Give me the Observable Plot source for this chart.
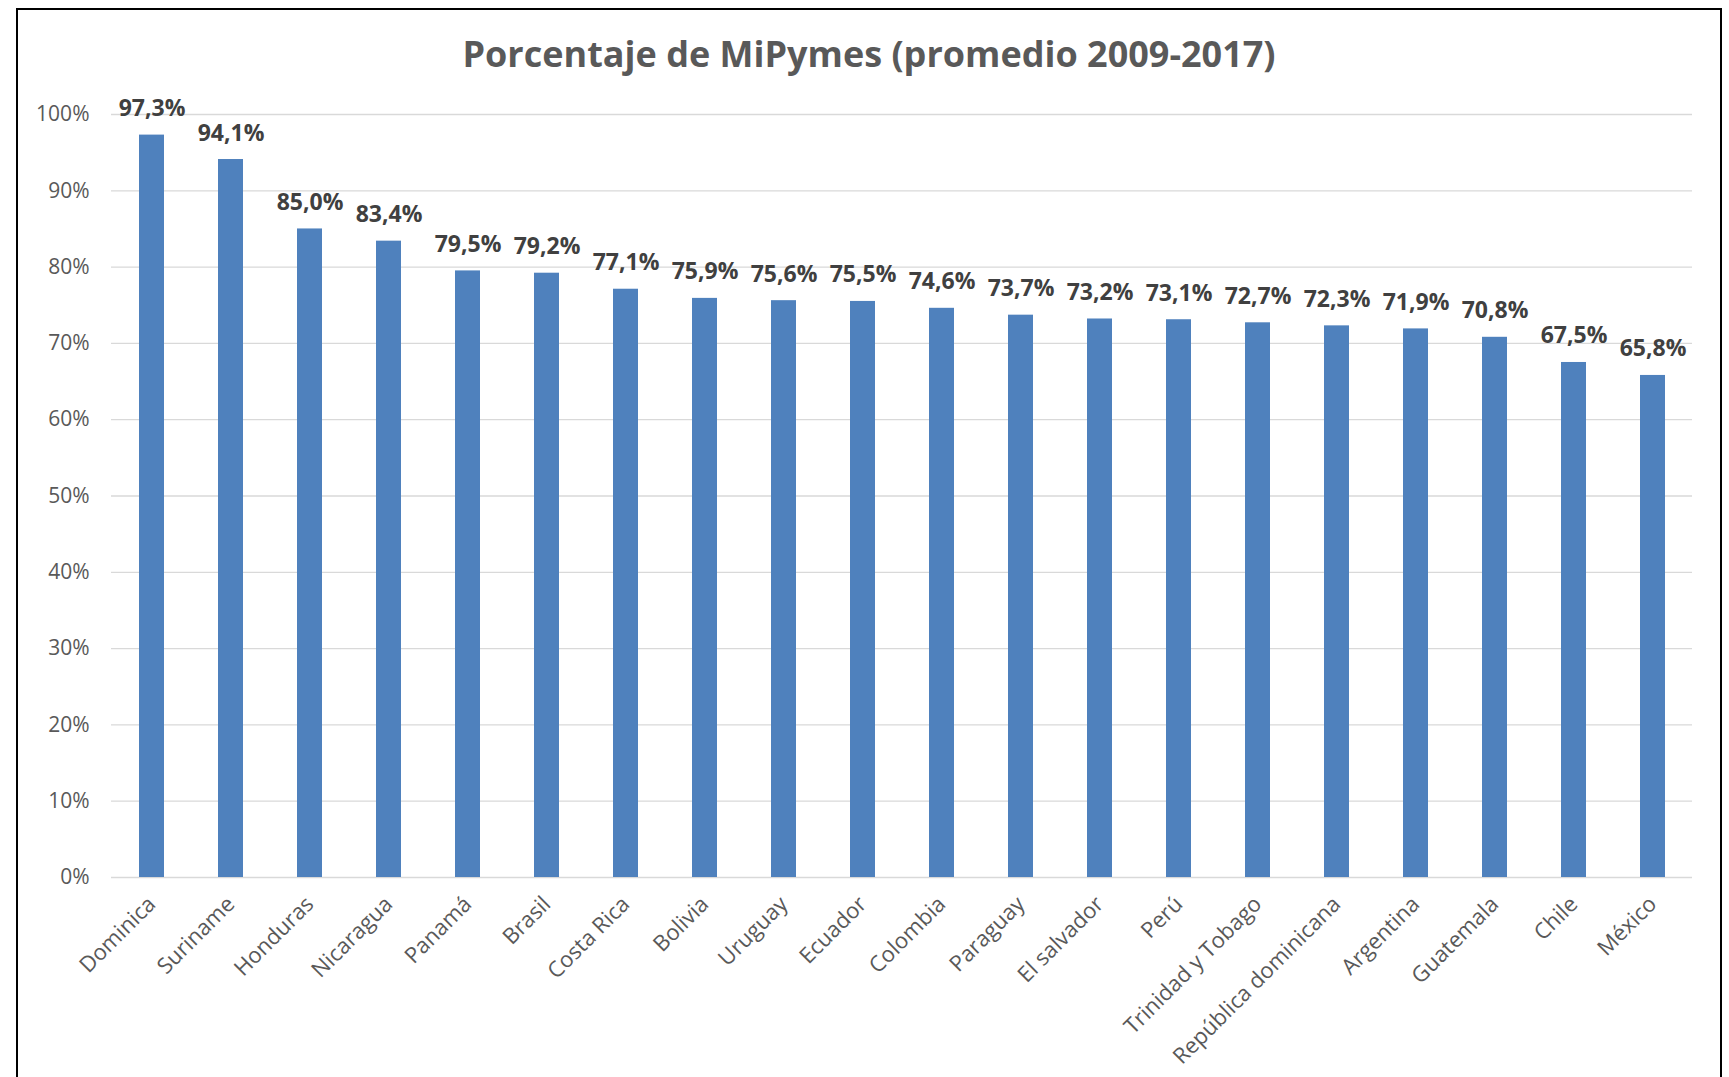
<!DOCTYPE html>
<html><head><meta charset="utf-8">
<script src="https://cdn.jsdelivr.net/npm/d3@7"></script>
<script src="https://cdn.jsdelivr.net/npm/@observablehq/plot@0.6"></script>
<style>
html,body{margin:0;padding:0;background:#fff;overflow:hidden;width:1729px;height:1077px;}
#frame{position:absolute;left:16px;top:8px;width:1706px;height:1200px;border:2px solid #000;box-sizing:border-box;}
#title{position:absolute;left:16px;width:1706px;top:36px;text-align:center;font:bold 36px/36px "Open Sans",sans-serif;color:#595959;z-index:2;white-space:nowrap;}
#chart{position:absolute;left:0;top:0;z-index:1;}
</style>
</head><body>
<div id="frame"></div>
<div id="title">Porcentaje de MiPymes (promedio 2009-2017)</div>
<div id="chart"></div>
<script>
const countries = ["Dominica","Suriname","Honduras","Nicaragua","Panamá","Brasil","Costa Rica","Bolivia","Uruguay","Ecuador","Colombia","Paraguay","El salvador","Perú","Trinidad y Tobago","República dominicana","Argentina","Guatemala","Chile","México"];
const values = [97.3,94.1,85.0,83.4,79.5,79.2,77.1,75.9,75.6,75.5,74.6,73.7,73.2,73.1,72.7,72.3,71.9,70.8,67.5,65.8];
const yTicks = [0,10,20,30,40,50,60,70,80,90,100];

const data = countries.map((c,i)=>({country:c, value:values[i]}));
const fmt = v => v.toFixed(1).replace(".", ",") + "%";

const chart = Plot.plot({
  width:1729, height:1077,
  marginLeft:111, marginRight:37, marginTop:114, marginBottom:200,
  style:{background:"none", fontFamily:"'Open Sans', sans-serif", overflow:"visible"},
  x:{domain:countries, paddingInner:0.684, paddingOuter:0.342, label:null},
  y:{domain:[0,100], label:null},
  marks:[
    Plot.ruleY(yTicks, {stroke:"#d9d9d9", strokeWidth:1.3}),
    Plot.barY(data, {x:"country", y:"value", fill:"#4f81bd"}),
    Plot.text(data, {x:"country", y:"value", text:d=>fmt(d.value), lineAnchor:"bottom", dy:-19, fontSize:23, fontWeight:"bold", fill:"#404040"}),
    Plot.axisY({ticks:yTicks, tickFormat:d=>d+"%", tickSize:0, tickPadding:22, fontSize:21, color:"#595959", label:null}),
    Plot.axisX({tickRotate:-45, tickSize:0, tickPadding:23, fontSize:22, color:"#595959", label:null})
  ]
});
document.getElementById("chart").appendChild(chart);
</script>
</body></html>
